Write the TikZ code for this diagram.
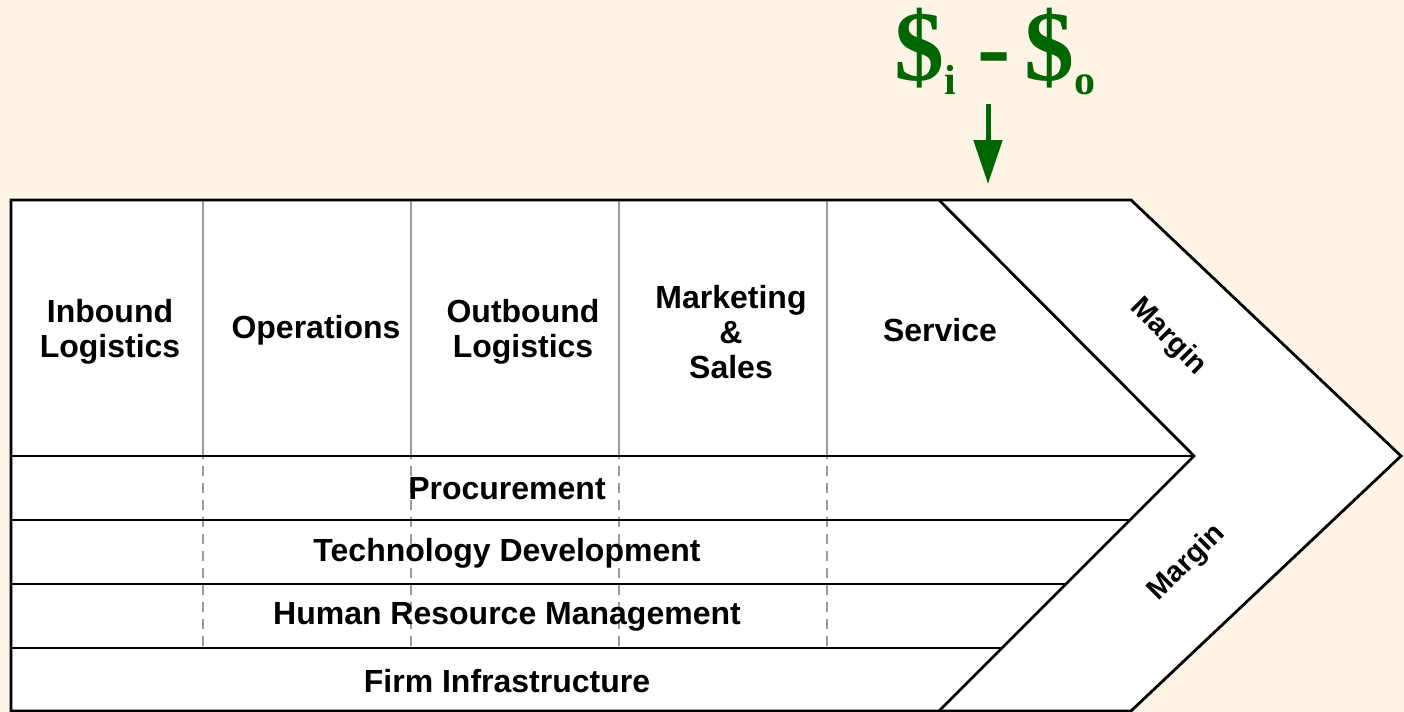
\documentclass[tikz,border=0pt]{standalone}
\usepackage{fontspec}
\setmainfont{Liberation Sans}
\newfontfamily\serifb{Liberation Serif}
\usetikzlibrary{arrows.meta}
\definecolor{bgcream}{RGB}{253,244,230}
\definecolor{gridgray}{RGB}{155,155,155}
\definecolor{dgreen}{RGB}{0,102,0}
\begin{document}
\begin{tikzpicture}[x=0.5pt,y=-0.5pt,
  outline/.style={draw=black,line width=1.4pt,line join=miter},
  solidgrid/.style={draw=gridgray,line width=1pt},
  dashgrid/.style={draw=gridgray,line width=1pt,dash pattern=on 5pt off 3.5pt,dash phase=-5pt},
  primlabel/.style={font=\fontsize{16}{17.5}\selectfont\bfseries,align=center,inner sep=0pt},
  suplabel/.style={font=\fontsize{16}{17.5}\selectfont\bfseries,inner sep=0pt},
  marglabel/.style={font=\fontsize{14.5}{16}\selectfont\bfseries,inner sep=0pt},
  greenarrow/.style={draw=dgreen,line width=2.5pt,-{Triangle[width=14pt,length=22pt]}}]
\fill[bgcream] (0,0) rectangle (1404,712);
\useasboundingbox (0,0) rectangle (1404,712);
% white body
\fill[white] (11,200) -- (1131,200) -- (1401,456) -- (1131,711) -- (11,711) -- cycle;
% gray column separators
\foreach \xx in {203,411,619,827}{
  \draw[solidgrid] (\xx,200) -- (\xx,456);
  \draw[dashgrid] (\xx,456) -- (\xx,648);
}
% black outlines
\draw[outline] (11,200) -- (1131,200) -- (1401,456) -- (1131,711) -- (11,711) -- cycle;
\draw[outline] (939,200) -- (1194,456) -- (939,711);
\draw[outline] (11,456) -- (1194,456);
\draw[outline] (11,520) -- (1130,520);
\draw[outline] (11,584) -- (1066,584);
\draw[outline] (11,648) -- (1002,648);
% primary activities
\node[primlabel] (inb) at (110,332) {Inbound\\Logistics};
\node[primlabel] (ops) at (316,330) {Operations};
\node[primlabel] (outb) at (523,332) {Outbound\\Logistics};
\node[primlabel] (mkt) at (731,332) {Marketing\\\&\\Sales};
\node[primlabel] (svc) at (940,330) {Service};
% support activities
\node[suplabel] (proc) at (507,489) {Procurement};
\node[suplabel] (tech) at (507,553) {Technology Development};
\node[suplabel] (hrm) at (507,617) {Human Resource Management};
\node[suplabel] (firm) at (507,681) {Firm Infrastructure};
% margins
\node[marglabel,rotate=-45] (m1) at (1168,337) {Margin};
\node[marglabel,rotate=45] (m2) at (1187,563) {Margin};
% formula
\node[text=dgreen,inner sep=0pt,anchor=base west] (formula) at (894,80)
  {\serifb\bfseries\fontsize{50}{50}\selectfont\$\raisebox{-0.14em}{\fontsize{21}{21}\selectfont i}\hspace{0.21em}-\hspace{0.14em}\$\raisebox{-0.14em}{\fontsize{21}{21}\selectfont o}};
\coordinate (arrtop) at (988,104);
\coordinate (arrtip) at (988,184);
\draw[greenarrow] (arrtop) -- (arrtip);
\end{tikzpicture}
\end{document}
